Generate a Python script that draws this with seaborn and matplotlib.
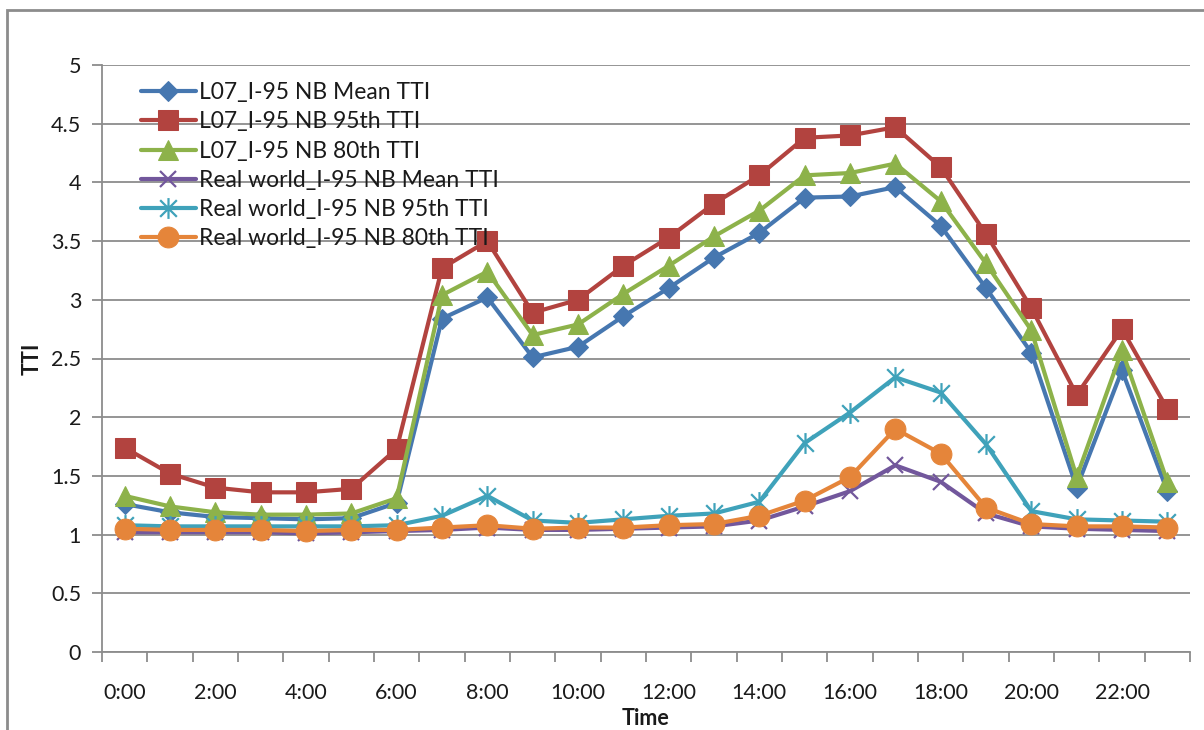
import numpy as np
import pandas as pd
import matplotlib
matplotlib.use("Agg")
import matplotlib.pyplot as plt
from matplotlib.path import Path
from matplotlib.patches import Rectangle
import seaborn as sns

# Hourly categories
hours = [f"{h}:00" for h in range(24)]
tick_labels = [f"{h}:00" for h in range(0, 24, 2)]

l07_mean = [1.26, 1.19, 1.15, 1.14, 1.13, 1.14, 1.27, 2.84, 3.02, 2.51, 2.60, 2.86,
            3.10, 3.36, 3.57, 3.87, 3.88, 3.96, 3.63, 3.10, 2.55, 1.40, 2.40, 1.37]
l07_95 = [1.74, 1.52, 1.40, 1.36, 1.36, 1.39, 1.73, 3.27, 3.50, 2.89, 3.00, 3.29,
          3.53, 3.82, 4.06, 4.38, 4.40, 4.47, 4.13, 3.56, 2.93, 2.19, 2.75, 2.07]
l07_80 = [1.33, 1.24, 1.19, 1.17, 1.17, 1.18, 1.31, 3.04, 3.24, 2.70, 2.79, 3.05,
          3.29, 3.54, 3.76, 4.06, 4.08, 4.16, 3.84, 3.31, 2.74, 1.49, 2.57, 1.45]
rw_mean = [1.02, 1.02, 1.02, 1.02, 1.01, 1.02, 1.03, 1.04, 1.06, 1.04, 1.04, 1.05,
           1.06, 1.07, 1.12, 1.24, 1.37, 1.59, 1.45, 1.18, 1.07, 1.05, 1.04, 1.03]
rw_95 = [1.08, 1.07, 1.07, 1.07, 1.07, 1.07, 1.08, 1.16, 1.33, 1.12, 1.10, 1.13,
         1.16, 1.18, 1.28, 1.78, 2.04, 2.34, 2.21, 1.77, 1.20, 1.13, 1.12, 1.11]
rw_80 = [1.05, 1.04, 1.04, 1.04, 1.03, 1.04, 1.04, 1.06, 1.08, 1.05, 1.06, 1.06,
         1.08, 1.09, 1.16, 1.29, 1.49, 1.90, 1.69, 1.23, 1.09, 1.07, 1.07, 1.06]

labels = ["L07_I-95 NB Mean TTI", "L07_I-95 NB 95th TTI", "L07_I-95 NB 80th TTI",
          "Real world_I-95 NB Mean TTI", "Real world_I-95 NB 95th TTI",
          "Real world_I-95 NB 80th TTI"]

sns.set_theme(style="white")
plt.rcParams["font.family"] = ["Lato", "DejaVu Sans"]

# Asterisk marker: vertical stroke plus an X
asterisk = Path(
    [(0, -1), (0, 1), (-0.8, -0.8), (0.8, 0.8), (-0.8, 0.8), (0.8, -0.8)],
    [Path.MOVETO, Path.LINETO, Path.MOVETO, Path.LINETO, Path.MOVETO, Path.LINETO],
)

styles = [
    dict(color="#4677B0", marker="D", markersize=10.5),
    dict(color="#B2433F", marker="s", markersize=14),
    dict(color="#8DB24A", marker="^", markersize=14),
    dict(color="#72579C", marker="x", markersize=12, markeredgewidth=1.6),
    dict(color="#3FA2BA", marker=asterisk, markersize=15, markeredgewidth=1.6,
         markerfacecolor="none"),
    dict(color="#E5853A", marker="o", markersize=15),
]

fig = plt.figure(figsize=(12.04, 7.30), dpi=100)
ax = fig.add_axes([102 / 1204, 78 / 730, 1088 / 1204, 587 / 730])

x = np.arange(len(hours))
series = [l07_mean, l07_95, l07_80, rw_mean, rw_95, rw_80]
for vals, lab, st in zip(series, labels, styles):
    kw = dict(st)
    kw["markeredgecolor"] = kw["color"]
    sns.lineplot(x=x, y=vals, ax=ax, label=lab, linewidth=3.0, **kw)

ax.set_xlim(-0.5, 23.5)
ax.set_ylim(0, 5)
ax.set_yticks(np.arange(0, 5.01, 0.5))
ax.set_yticklabels(["0", "0.5", "1", "1.5", "2", "2.5", "3", "3.5", "4", "4.5", "5"])
ax.grid(axis="y", color="#8c8c8c", linewidth=1.3)
ax.set_axisbelow(True)

# Category boundaries carry the tick marks, labels sit on every other hour
ax.set_xticks(np.arange(-0.5, 24, 1.0))
ax.set_xticklabels([])
ax.set_xticks(np.arange(0, 24, 2), minor=True)
ax.set_xticklabels(tick_labels, minor=True)
ax.tick_params(axis="x", which="major", direction="out", length=7, width=1.3,
               color="#8c8c8c", bottom=True)
ax.tick_params(axis="x", which="minor", length=0, pad=22, labelsize=15.5,
               labelcolor="#1a1a1a")
ax.tick_params(axis="y", direction="out", length=7, width=1.3, color="#8c8c8c",
               left=True, pad=8, labelsize=15.5, labelcolor="#1a1a1a")

for side in ["top", "right"]:
    ax.spines[side].set_visible(False)
for side in ["left", "bottom"]:
    ax.spines[side].set_color("#8c8c8c")
    ax.spines[side].set_linewidth(1.3)

ax.set_xlabel("Time", fontsize=15.5, fontweight="bold", labelpad=4, color="#1a1a1a")
ax.set_ylabel("TTI", fontsize=15.5, fontweight="bold", labelpad=6, color="#1a1a1a")

leg = ax.legend(loc="upper left", bbox_to_anchor=(0.02, 1.0), frameon=False,
                fontsize=16.5, handlelength=2.4, handletextpad=0.15,
                labelspacing=0.36, borderaxespad=0.35)
for t in leg.get_texts():
    t.set_color("#1a1a1a")

# Outer chart border
fig.patches.append(Rectangle((7 / 1204, -0.05), 1.2, (720 / 730) + 0.05,
                             transform=fig.transFigure, fill=False,
                             edgecolor="#8c8c8c", linewidth=2.0))

fig.savefig("out.png", dpi=100)
